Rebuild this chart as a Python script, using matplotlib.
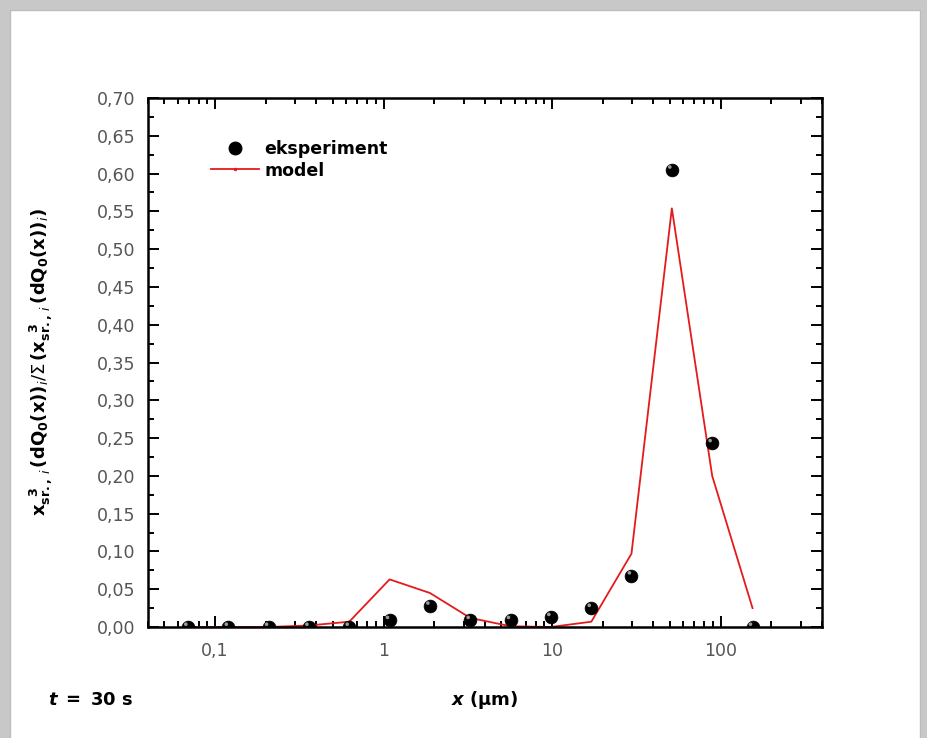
import matplotlib
matplotlib.use("Agg")
import matplotlib.pyplot as plt
import matplotlib.transforms as mtransforms
from matplotlib.lines import Line2D
from matplotlib.patches import FancyBboxPatch
from matplotlib.ticker import FixedLocator, MultipleLocator, LogLocator, NullFormatter

plt.rcParams['mathtext.fontset'] = 'dejavusans'
plt.rcParams['font.family'] = ['DejaVu Sans']

# data
x_size = [0.069, 0.12, 0.208, 0.361, 0.626, 1.086, 1.885, 3.27, 5.67, 9.84, 17.1, 29.6, 51.4, 89.2, 154.8]
eksperiment = [0.0, 0.0, 0.0, 0.0, 0.0, 0.009, 0.028, 0.009, 0.009, 0.013, 0.025, 0.068, 0.605, 0.243, 0.0]
model = [0.0, 0.0, 0.0, 0.002, 0.007, 0.063, 0.045, 0.012, 0.001, 0.0, 0.007, 0.097, 0.554, 0.200, 0.025]
x_ticks = [0.1, 1, 10, 100]
x_tick_labels = ["0,1", "1", "10", "100"]
y_ticks = [i * 0.05 for i in range(15)]
y_tick_labels = [f"{v:.2f}".replace(".", ",") for v in y_ticks]

fig = plt.figure(figsize=(9.28, 7.38), dpi=100)
fig.patch.set_facecolor('#c8c8c8')
panel = FancyBboxPatch((10 / 928, -0.05), 910 / 928, (738 - 10) / 738 + 0.05,
                       boxstyle="square,pad=0", transform=fig.transFigure,
                       facecolor='white', edgecolor='#bdbdbd', linewidth=1.0, zorder=-10)
fig.patches.append(panel)

ax = fig.add_axes([148 / 928, (738 - 627) / 738, 674 / 928, 529 / 738])
ax.set_zorder(5)
ax.set_xscale('log')
ax.set_xlim(0.04, 400)
ax.set_ylim(0, 0.70)

ax.plot(x_size, model, color='#e41a1c', linewidth=1.3, zorder=2)
ax.scatter(x_size, eksperiment, s=85, c='black', edgecolors='black', linewidths=0.5,
           zorder=3, clip_on=True)
# highlight for sphere look
hl = mtransforms.offset_copy(ax.transData, fig=fig, x=-1.5, y=2.0, units='points')
ax.scatter(x_size, eksperiment, s=7, c='#9a9a9a', edgecolors='none', transform=hl,
           zorder=4, clip_on=True)

ax.xaxis.set_major_locator(FixedLocator(x_ticks))
ax.set_xticklabels(x_tick_labels)
ax.xaxis.set_minor_locator(LogLocator(base=10, subs=range(2, 10)))
ax.xaxis.set_minor_formatter(NullFormatter())
ax.set_yticks(y_ticks)
ax.set_yticklabels(y_tick_labels)
ax.yaxis.set_minor_locator(MultipleLocator(0.025))

ax.tick_params(which='both', direction='in', top=True, right=True, width=1.4,
               labelsize=12.5, labelcolor='#555555')
ax.tick_params(axis='y', pad=9)
ax.tick_params(axis='x', pad=11)
ax.tick_params(which='major', length=8)
ax.tick_params(which='minor', length=4)
for s in ax.spines.values():
    s.set_linewidth(1.8)

ax.set_xlabel(r"$\boldsymbol{x}$ $\mathbf{(\mu m)}$", fontsize=13, labelpad=21)
ax.set_ylabel(r"$\mathbf{x}_{\mathbf{sr.,}\,i}^{\ \ \mathbf{3}}\,\mathbf{(dQ_0(x))}_i/\Sigma\,\mathbf{(x}_{\mathbf{sr.,}\,i}^{\ \ \mathbf{3}}\,\mathbf{(dQ_0(x))}_i\mathbf{)}$",
              fontsize=13, labelpad=30)

fig.text(48 / 928, 1 - 700 / 738, r"$\boldsymbol{t}$ $\mathbf{=\ 30\ s}$", fontsize=13,
         va='center', ha='left')

handles = [Line2D([], [], linestyle='none', marker='o', markersize=9, color='black'),
           Line2D([], [], color='#e41a1c', linewidth=1.3, marker='.', markersize=3)]
ax.legend(handles, ['eksperiment', 'model'], loc='upper left', bbox_to_anchor=(0.07, 0.95),
          frameon=False, prop={'weight': 'bold', 'size': 12.5}, handlelength=2.8,
          handletextpad=0.3, labelspacing=0.2)

fig.savefig('out.png', dpi=100, facecolor=fig.get_facecolor())
